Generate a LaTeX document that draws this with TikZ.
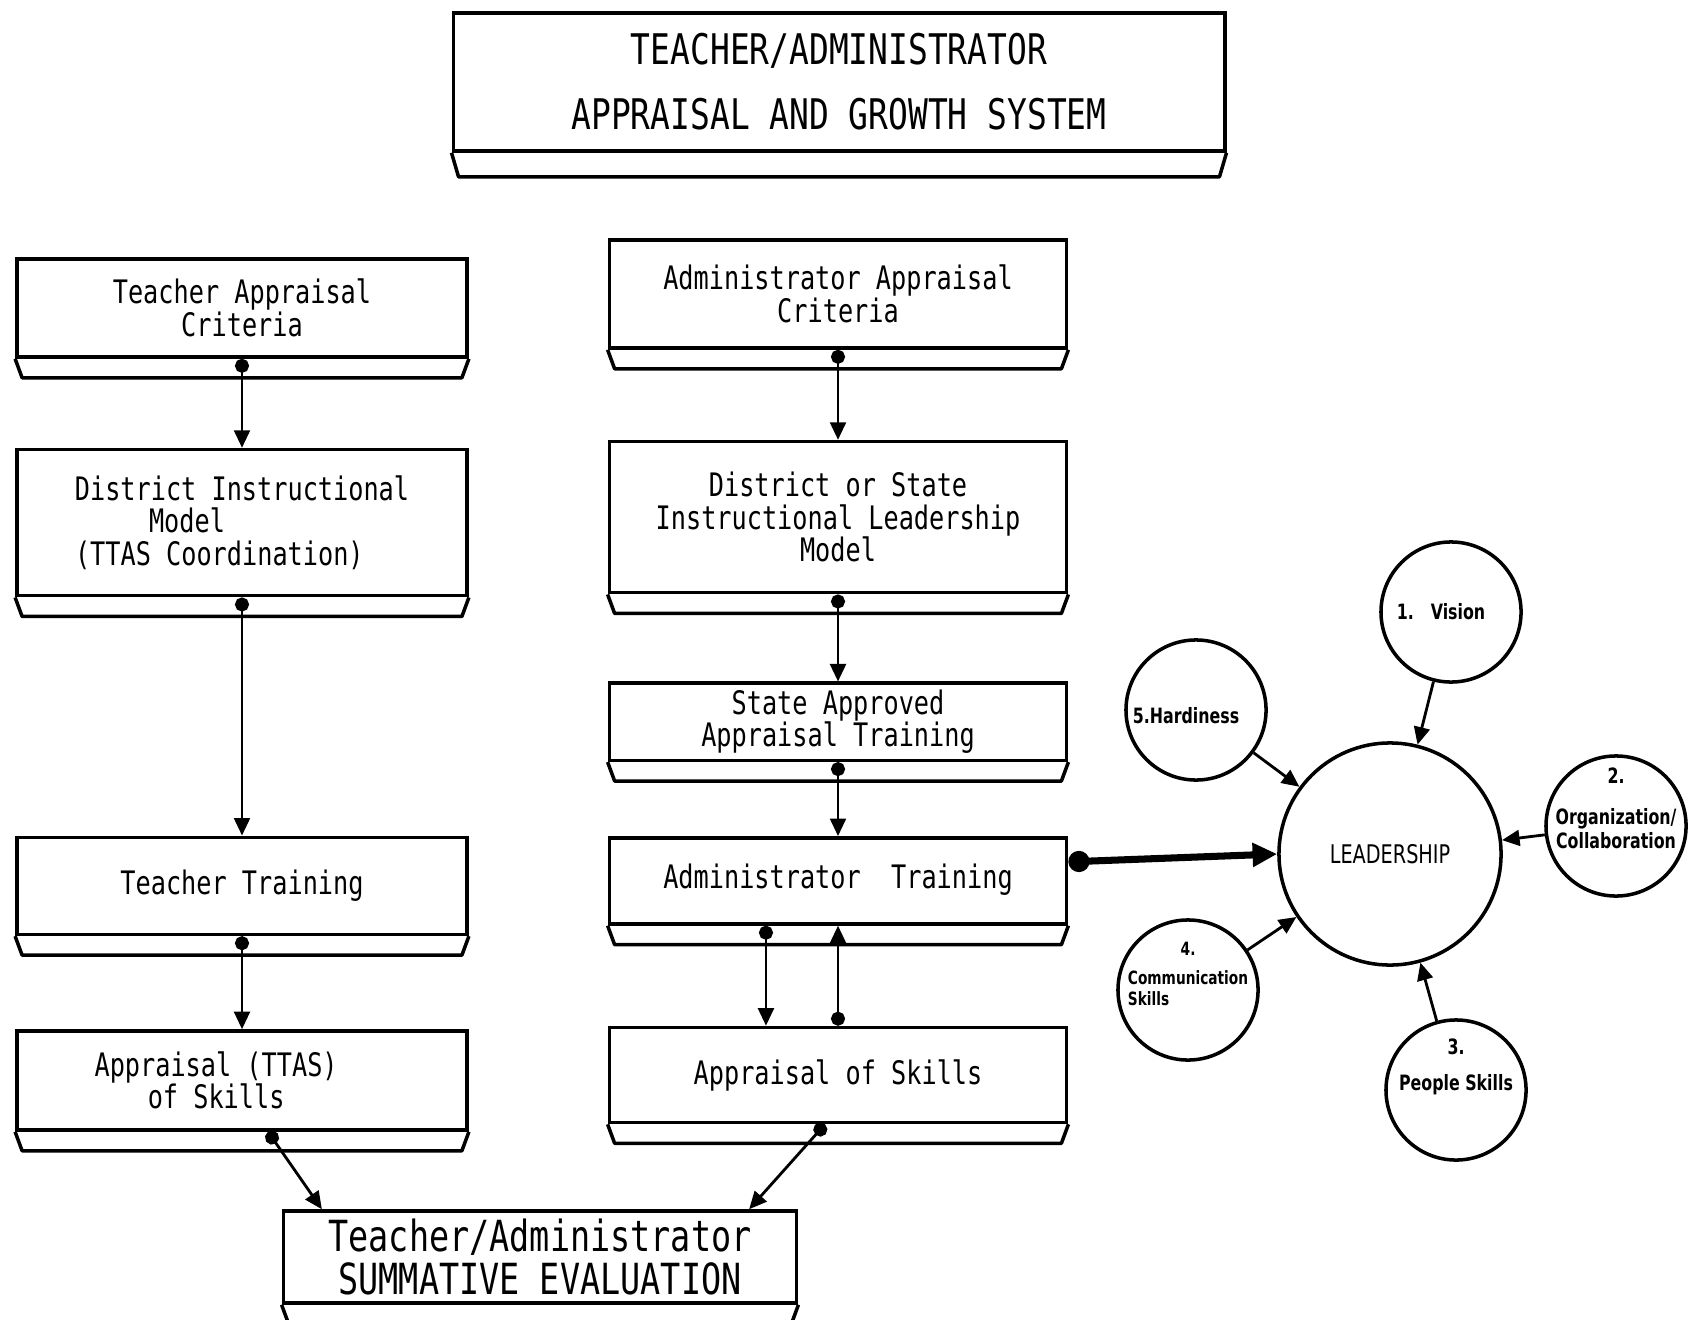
\documentclass[tikz,border=0pt]{standalone}
\usepackage{fontspec}
\usepackage{tikz}
\usetikzlibrary{positioning, arrows.meta}
\newfontfamily\typerfont[FakeStretch=0.78]{DejaVu Sans Mono}
\newfontfamily\skillfont[FakeStretch=0.75]{DejaVu Sans}
\tikzset{every node/.style={inner sep=0pt},
box/.style={ % framed box of the flow chart
draw, line width=1pt, align=center,
font=\typerfont\fontsize{9.2}{9.2}\selectfont},
leftbox/.style={box, minimum width=4.5cm},
midbox/.style={box, minimum width=4.57cm},
skill/.style={circle, draw, line width=1pt, minimum size=1.4cm}, % the five skills
skilltext/.style={font=\skillfont\bfseries\fontsize{6}{5.6}\selectfont, align=center},
slab/.style={line width=1pt, line join=round}, % bottom strip under a box
flow/.style={draw, line width=0.8pt, {Circle[length=4pt]}-{Triangle[length=5pt,width=4.5pt]}},
feed/.style={draw, line width=0.8pt, -{Triangle[length=5pt,width=4.5pt]}},
push/.style={draw, line width=2pt, {Circle[length=6pt]}-{Triangle[length=7pt,width=6.5pt]}}}

\begin{document}
\begin{tikzpicture}[x=0.01cm, y=0.01cm]
    \useasboundingbox (0,0) rectangle (1695,-1319);

    \node[box, minimum width=7.71cm, minimum height=1.38cm,
      font=\typerfont\fontsize{12}{18.5}\selectfont] (title) at (839,-82)
      {TEACHER/ADMINISTRATOR\\APPRAISAL AND GROWTH SYSTEM};

    % teacher side
    \node[leftbox, minimum height=0.98cm] (tcrit) at (242,-308) {Teacher Appraisal\\Criteria};
    \node[leftbox, minimum height=1.46cm, below=0.89cm of tcrit] (tmodel)
      {District Instructional\\Model\rule{3.4em}{0pt}\\(TTAS Coordination)\rule{1.4em}{0pt}};
    \node[leftbox, minimum height=0.97cm, below=2.38cm of tmodel] (ttrain) {Teacher Training};
    \node[leftbox, minimum height=0.99cm, below=0.93cm of ttrain] (tskill)
      {Appraisal (TTAS)\rule{1.6em}{0pt}\\of Skills\rule{1.6em}{0pt}};

    % administrator side
    \node[midbox, minimum height=1.08cm] (acrit) at (838,-294) {Administrator Appraisal\\Criteria};
    \node[midbox, minimum height=1.51cm, below=0.90cm of acrit] (amodel)
      {District or State\\Instructional Leadership\\Model};
    \node[midbox, minimum height=0.77cm, below=0.87cm of amodel] (astate) {State Approved\\Appraisal Training};
    \node[midbox, minimum height=0.86cm, below=0.74cm of astate] (atrain) {\raisebox{0.1cm}{Administrator\ \ Training}};
    \node[midbox, minimum height=0.95cm, below=1.00cm of atrain] (askill) {Appraisal of Skills};

    \node[box, minimum width=5.13cm, minimum height=0.92cm,
      font=\typerfont\fontsize{12.2}{12.3}\selectfont] (summ) at (540,-1257)
      {Teacher/Administrator\\SUMMATIVE EVALUATION};

    \foreach \n/\d in {title/24, tcrit/19, tmodel/19, ttrain/19, tskill/19,
      acrit/19, amodel/19, astate/19, atrain/19, askill/19, summ/19}
      \draw[slab] (\n.south west) -- ++(7,-\d) -- ([shift={(-7,-\d)}]\n.south east) -- (\n.south east);

    % leadership cluster
    \node[circle, draw, line width=1pt, minimum size=2.22cm,
      font=\skillfont\fontsize{7.3}{8}\selectfont] (lead) at (1390,-854) {LEADERSHIP};
    \node[skill, label={[skilltext, xshift=-0.1cm]center:{1.\hspace{0.8em}Vision}}] (vision) at (1451,-612) {};
    \node[skill, label={[skilltext, yshift=0.18cm]center:{2.\\[6pt]Organization/\\Collaboration}}] (org) at (1616,-826) {};
    \node[skill, label={[skilltext, yshift=0.23cm]center:{3.\\[4.5pt]People Skills}}] (people) at (1456,-1090) {};
    \node[skill, label={[skilltext, font=\skillfont\bfseries\fontsize{5.2}{6.2}\selectfont, align=left, yshift=0.16cm]center:{\hspace*{15pt}4.\\[2pt]Communication\\Skills}}] (comm) at (1188,-990) {};
    \node[skill, label={[skilltext, xshift=-0.1cm, yshift=-0.06cm]center:{5.Hardiness}}] (hardy) at (1196,-710) {};

    \draw (tcrit) edge[flow] (tmodel);
    \draw (tmodel) edge[flow] (ttrain);
    \draw (ttrain) edge[flow] (tskill);
    \draw ([xshift=0.26cm]tskill.south) edge[flow] ([xshift=-2.18cm]summ.north);

    \draw (acrit) edge[flow] (amodel);
    \draw (amodel) edge[flow] (astate);
    \draw (astate) edge[flow] (atrain);
    \draw ([xshift=-0.72cm]atrain.south) edge[flow] ([xshift=-0.72cm]askill.north);
    \draw (askill) edge[flow] (atrain);
    \draw ([xshift=-0.13cm]askill.south) edge[flow] ([xshift=2.09cm]summ.north);

    \draw ([yshift=0.19cm]atrain.east) edge[push] (lead.west);

    \draw (vision) edge[feed] (lead);
    \draw (org) edge[feed] (lead);
    \draw (people) edge[feed] (lead);
    \draw (comm) edge[feed] (lead);
    \draw (hardy) edge[feed] (lead);

\end{tikzpicture}
\end{document}
